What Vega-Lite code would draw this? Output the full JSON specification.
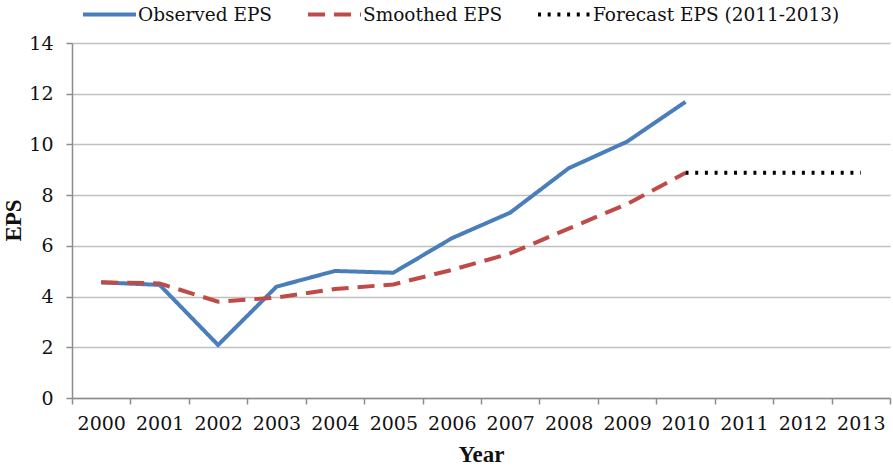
{
  "$schema": "https://vega.github.io/schema/vega-lite/v6.json",
  "width": 818,
  "height": 355,
  "autosize": {"type": "none"},
  "padding": {"left": 72, "top": 43, "right": 3, "bottom": 73},
  "background": "white",
  "config": {
    "view": {"stroke": null},
    "font": "DejaVu Serif",
    "axis": {
      "labelFont": "DejaVu Serif",
      "titleFont": "Liberation Serif",
      "labelFontSize": 19,
      "titleFontSize": 23,
      "labelColor": "#111111",
      "titleColor": "#111111",
      "domainColor": "#8c8c8c",
      "tickColor": "#8c8c8c",
      "gridColor": "#c0c0c0",
      "domainWidth": 1.5,
      "tickWidth": 1.5,
      "gridWidth": 1.5,
      "tickSize": 6
    }
  },
  "data": {
    "values": [
      {"year": "2000", "series": "Observed EPS", "eps": 4.56},
      {"year": "2001", "series": "Observed EPS", "eps": 4.46},
      {"year": "2002", "series": "Observed EPS", "eps": 2.09},
      {"year": "2003", "series": "Observed EPS", "eps": 4.39},
      {"year": "2004", "series": "Observed EPS", "eps": 5.01},
      {"year": "2005", "series": "Observed EPS", "eps": 4.94},
      {"year": "2006", "series": "Observed EPS", "eps": 6.3},
      {"year": "2007", "series": "Observed EPS", "eps": 7.31},
      {"year": "2008", "series": "Observed EPS", "eps": 9.06},
      {"year": "2009", "series": "Observed EPS", "eps": 10.11},
      {"year": "2010", "series": "Observed EPS", "eps": 11.68},
      {"year": "2000", "series": "Smoothed EPS", "eps": 4.56},
      {"year": "2001", "series": "Smoothed EPS", "eps": 4.52},
      {"year": "2002", "series": "Smoothed EPS", "eps": 3.8},
      {"year": "2003", "series": "Smoothed EPS", "eps": 3.96},
      {"year": "2004", "series": "Smoothed EPS", "eps": 4.3},
      {"year": "2005", "series": "Smoothed EPS", "eps": 4.48},
      {"year": "2006", "series": "Smoothed EPS", "eps": 5.05},
      {"year": "2007", "series": "Smoothed EPS", "eps": 5.7},
      {"year": "2008", "series": "Smoothed EPS", "eps": 6.68},
      {"year": "2009", "series": "Smoothed EPS", "eps": 7.65},
      {"year": "2010", "series": "Smoothed EPS", "eps": 8.88},
      {"year": "2010", "series": "Forecast EPS (2011-2013)", "eps": 8.88},
      {"year": "2011", "series": "Forecast EPS (2011-2013)", "eps": 8.88},
      {"year": "2012", "series": "Forecast EPS (2011-2013)", "eps": 8.88},
      {"year": "2013", "series": "Forecast EPS (2011-2013)", "eps": 8.88}
    ]
  },
  "mark": {"type": "line", "strokeWidth": 4, "strokeCap": "butt"},
  "encoding": {
    "x": {
      "field": "year",
      "type": "ordinal",
      "bandPosition": 0.5,
      "scale": {"type": "band", "paddingInner": 0, "paddingOuter": 0},
      "axis": {
        "title": "Year",
        "labelAngle": 0,
        "tickBand": "extent",
        "labelPadding": 10,
        "titlePadding": 10,
        "grid": false
      }
    },
    "y": {
      "field": "eps",
      "type": "quantitative",
      "scale": {"domain": [0, 14], "nice": false},
      "axis": {
        "title": "EPS",
        "values": [0, 2, 4, 6, 8, 10, 12, 14],
        "grid": true,
        "labelPadding": 13,
        "titleX": -47,
        "titleY": 177,
        "titleBaseline": "bottom",
        "titleAlign": "center"
      }
    },
    "color": {
      "field": "series",
      "type": "nominal",
      "scale": {
        "domain": ["Observed EPS", "Smoothed EPS", "Forecast EPS (2011-2013)"],
        "range": ["#4A7EBB", "#BE4B48", "#000000"]
      },
      "legend": {
        "orient": "none",
        "legendX": 9,
        "legendY": -57,
        "direction": "horizontal",
        "title": null,
        "symbolType": "stroke",
        "symbolSize": 2809,
        "symbolStrokeWidth": 4,
        "labelFontSize": 18.5,
        "labelFont": "DejaVu Serif",
        "labelColor": "#111111",
        "labelLimit": 400,
        "labelOffset": 0,
        "columnPadding": 27
      }
    },
    "strokeDash": {
      "field": "series",
      "type": "nominal",
      "scale": {
        "domain": ["Observed EPS", "Smoothed EPS", "Forecast EPS (2011-2013)"],
        "range": [[1, 0], [17, 9], [3, 6.7]]
      },
      "legend": {
        "orient": "none",
        "legendX": 9,
        "legendY": -57,
        "direction": "horizontal",
        "title": null,
        "symbolType": "stroke",
        "symbolSize": 2809,
        "symbolStrokeWidth": 4,
        "labelFontSize": 18.5,
        "labelFont": "DejaVu Serif",
        "labelColor": "#111111",
        "labelLimit": 400,
        "labelOffset": 0,
        "columnPadding": 27
      }
    }
  }
}
